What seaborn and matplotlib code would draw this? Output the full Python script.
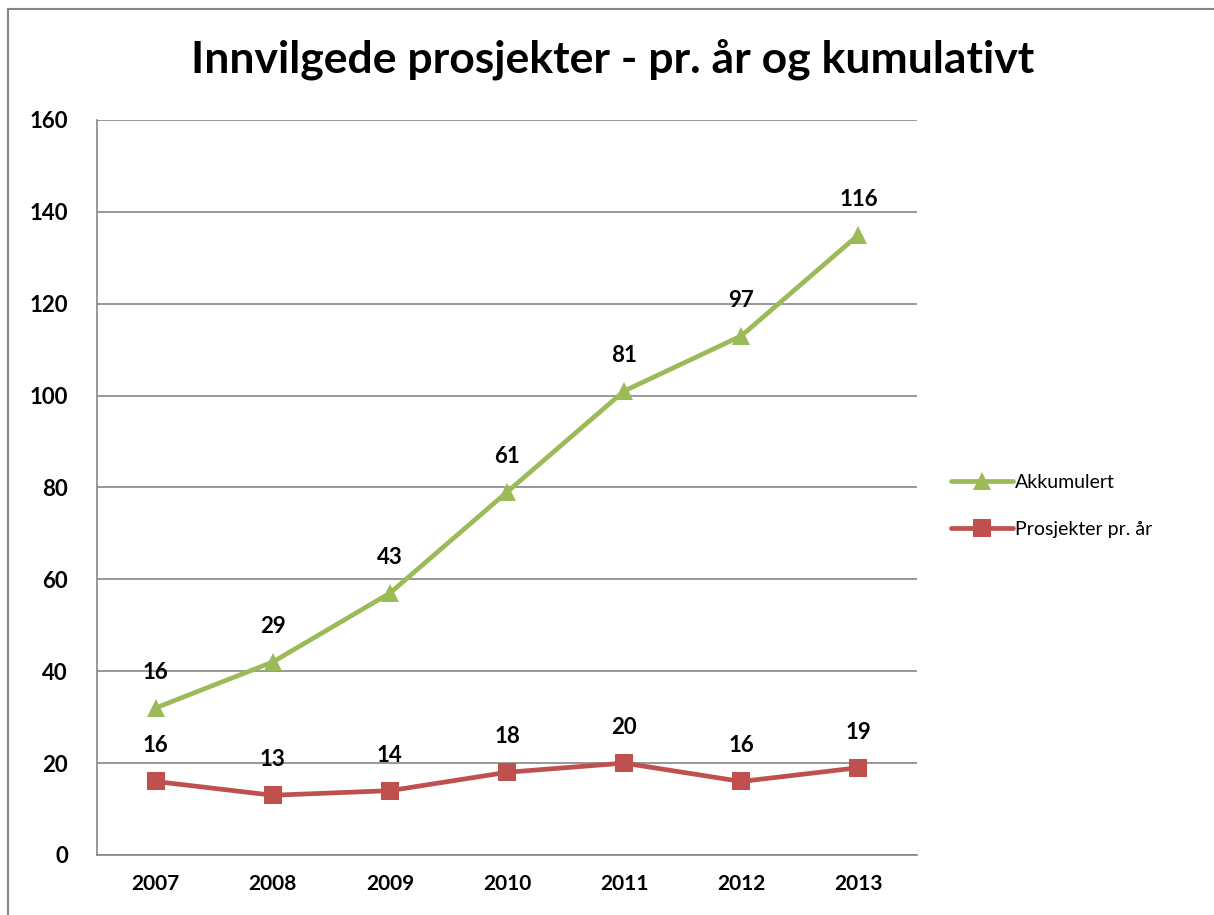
import matplotlib
matplotlib.use("Agg")
import matplotlib.pyplot as plt
import seaborn as sns
import pandas as pd
import numpy as np
from matplotlib.patches import Rectangle

years = ["2007", "2008", "2009", "2010", "2011", "2012", "2013"]
per_year = [16, 13, 14, 18, 20, 16, 19]
accumulated = [16, 29, 43, 61, 81, 97, 116]
series_names = ["Akkumulert", "Prosjekter pr. år"]
title = "Innvilgede prosjekter - pr. år og kumulativt"
y_ticks = [0, 20, 40, 60, 80, 100, 120, 140, 160]

sns.set_theme(style="white")
plt.rcParams['font.family'] = ['Lato', 'DejaVu Sans']
plt.rcParams['text.color'] = 'black'
plt.rcParams['xtick.color'] = 'black'
plt.rcParams['ytick.color'] = 'black'

# Stacked line chart (Excel style): Akkumulert stacked on top of per-year
idx = np.arange(len(years))
stacked = [a + b for a, b in zip(per_year, accumulated)]
df = pd.DataFrame({
    "x": np.concatenate([idx, idx]),
    "y": stacked + per_year,
    "label": accumulated + per_year,
    "series": [series_names[0]] * len(years) + [series_names[1]] * len(years),
})

fig = plt.figure(figsize=(12.14, 9.15), dpi=100)
ax = fig.add_axes([0.0799, 0.0656, 0.6755, 0.8033])

palette = {series_names[0]: "#9BBB59", series_names[1]: "#C0504D"}
markers = {series_names[0]: "^", series_names[1]: "s"}
sns.lineplot(data=df, x="x", y="y", hue="series", style="series",
             palette=palette, markers=markers, dashes=False,
             linewidth=3.4, markersize=13, markeredgewidth=0, ax=ax,
             legend=True)

for _, r in df.iterrows():
    ax.annotate(str(r["label"]), (r["x"], r["y"]), xytext=(0, 18),
                textcoords="offset points", ha="center", va="bottom",
                fontsize=16, fontweight="bold", color="black")

ax.set_xlim(-0.5, len(years) - 0.5)
ax.set_ylim(0, 160)
ax.set_yticks(y_ticks)
ax.set_yticklabels([str(v) for v in y_ticks], fontsize=16, fontweight="bold")
ax.set_xticks(idx)
ax.set_xticklabels(years, fontsize=15, fontweight="bold")
ax.set_xticks(np.arange(-0.5, len(years)), minor=True)
ax.tick_params(axis="x", which="major", length=0, pad=14)
ax.tick_params(axis="x", which="minor", length=7, width=1.2, color="#868686", direction="out")
ax.tick_params(axis="y", which="major", length=7, width=1.2, color="#868686", direction="out", pad=14)
ax.set_xlabel("")
ax.set_ylabel("")
ax.grid(axis="y", color="#868686", linewidth=1.2)
ax.set_axisbelow(True)
for s in ["top", "right"]:
    ax.spines[s].set_visible(False)
for s in ["left", "bottom"]:
    ax.spines[s].set_color("#868686")
    ax.spines[s].set_linewidth(1.2)

leg = ax.legend(loc="center left", bbox_to_anchor=(1.02, 0.475), frameon=False,
                fontsize=14, handlelength=3.2, handletextpad=0.1, labelspacing=1.55)
for t in leg.get_texts():
    t.set_color("black")

fig.text(0.505, 0.935, title, ha="center", va="center", fontsize=32,
         fontweight="bold", color="black")
fig.patches.append(Rectangle((0.007, -0.01), 1.1, 1.0, transform=fig.transFigure,
                             fill=False, edgecolor="#868686", linewidth=1.5))

fig.savefig("out.png", dpi=100)
